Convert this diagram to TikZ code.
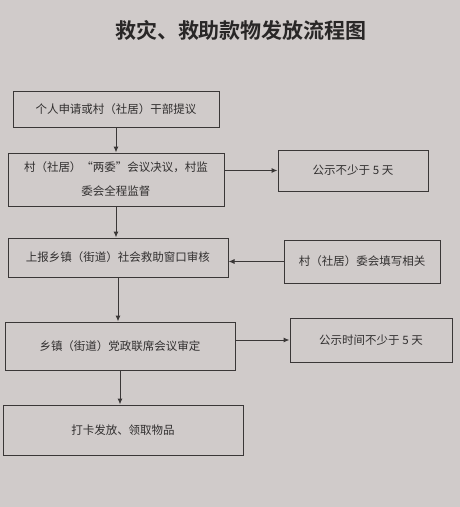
\documentclass[tikz,border=0pt]{standalone}
\usepackage{fontspec}
\usetikzlibrary{arrows.meta}
\newfontfamily\cjk{Noto Sans CJK SC}[BoldFont={Noto Sans CJK SC Bold}]
\definecolor{paper}{RGB}{208,203,202}
\definecolor{ink}{RGB}{58,55,55}
\begin{document}
\begin{tikzpicture}[x=1pt,y=-1pt,
    box/.style={draw=ink,line width=1pt,inner sep=2pt,align=center,
      font=\cjk\fontsize{11.5}{24}\selectfont,text=ink!85!black},
    flow/.style={draw=ink,line width=1pt,-{Latex[length=6pt,width=5pt]}}]
    \fill[paper] (0,0) rectangle (460,507);
    \useasboundingbox (0,0) rectangle (460,507);

    \node[font=\cjk\bfseries\fontsize{21}{24}\selectfont,text=ink!70!black] (title) at (241,30) {救灾、救助款物发放流程图};

    \node[box,minimum width=206,minimum height=36] (b1) at (116,109) {个人申请或村（社居）干部提议};
    \node[box,minimum width=216,minimum height=53] (b2) at (116,179.5) {村（社居）“两委”会议决议，村监\\委会全程监督};
    \node[box,minimum width=220,minimum height=39] (b3) at (118,257.5) {上报乡镇（街道）社会救助窗口审核};
    \node[box,minimum width=230,minimum height=48] (b4) at (120,346) {乡镇（街道）党政联席会议审定};
    \node[box,minimum width=240,minimum height=50] (b5) at (123,430) {打卡发放、领取物品};

    \node[box,minimum width=150,minimum height=41] (r1) at (353,170.5) {公示不少于 5 天};
    \node[box,minimum width=156,minimum height=43] (r2) at (362,261.5) {村（社居）委会填写相关};
    \node[box,minimum width=162,minimum height=44] (r3) at (371,340) {公示时间不少于 5 天};

    \draw[flow] (b1.south) -- (b1.south |- b2.north);
    \draw[flow] (b2.south) -- (b2.south |- b3.north);
    \draw[flow] (b3.south) -- (b3.south |- b4.north);
    \draw[flow] (b4.south) -- (b4.south |- b5.north);

    \draw[flow] (r1.west -| b2.east) -- (r1.west);
    \draw[flow] (r2.west) -- (r2.west -| b3.east);
    \draw[flow] (r3.west -| b4.east) -- (r3.west);
\end{tikzpicture}
\end{document}
